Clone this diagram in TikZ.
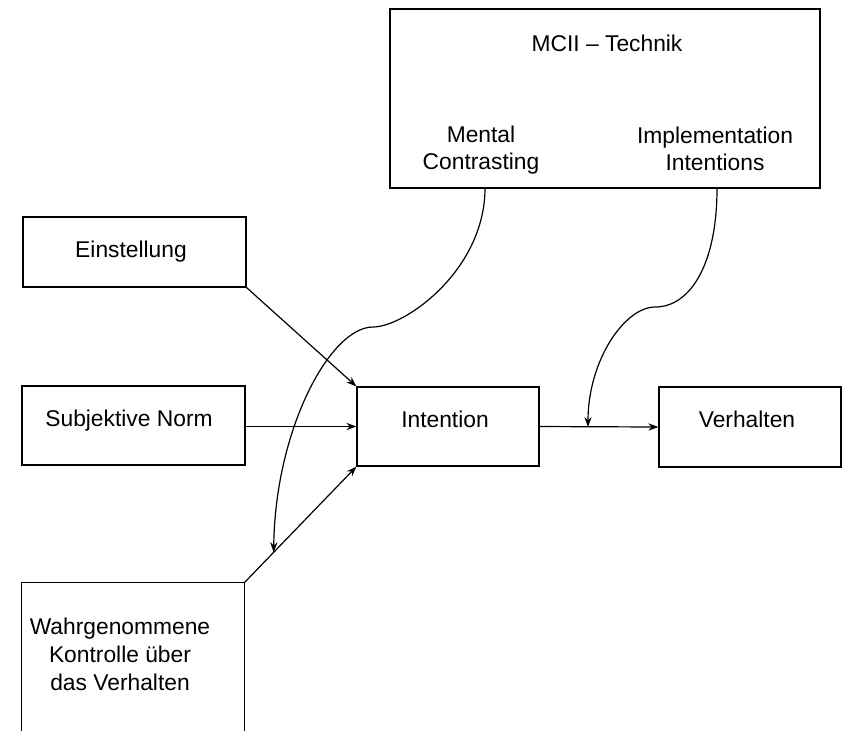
\documentclass[tikz,border=0pt]{standalone}
\usepackage{fontspec}
\setmainfont{Liberation Sans}
\usetikzlibrary{arrows.meta,calc}

\begin{document}
\begin{tikzpicture}[x=0.5pt, y=-0.5pt, >={Stealth[length=5pt,width=3.6pt]},
    line width=0.6pt,
    kasten/.style={draw, inner sep=0pt},
    txt/.style={inner sep=0pt, align=center}]
    \useasboundingbox (0,0) rectangle (844,730);
    \fontsize{11.4}{13.2}\selectfont
    % MCII box with its parts
    \node[kasten, minimum width=215pt, minimum height=89.5pt] (mcii) at (605,98.5) {};
    \node[txt] (technik) at (607,43) {MCII -- Technik};
    \node[txt] (mc) at (481,150) {Mental\\Contrasting};
    \node[txt] (ii) at (715,149) {Implementation\\Intentions};
    % predictors
    \node[kasten, minimum width=111.5pt, minimum height=35pt] (einst) at (134.5,252) {};
    \node[txt] (einsttxt) at (131,252) {Einstellung};
    \node[kasten, minimum width=111.5pt, minimum height=39.5pt] (norm) at (133.5,425.5) {};
    \node[txt] (normtxt) at (129,421) {Subjektive Norm};
    \node[minimum width=111pt, minimum height=73.5pt, inner sep=0pt] (kontrolle) at (133,656.5) {};
    \draw (kontrolle.south west) -- (kontrolle.north west) -- (kontrolle.north east)
      -- (kontrolle.south east);
    \node[txt, font=\fontsize{11.4}{14}\selectfont] (kontrolletxt) at (120,654)
      {Wahrgenommene\\Kontrolle über\\das Verhalten};
    % intention and behaviour
    \node[kasten, minimum width=91pt, minimum height=39.5pt] (intention) at (448,426.5) {};
    \node[txt] (intentiontxt) at (445,419) {Intention};
    \node[kasten, minimum width=91pt, minimum height=40pt] (verhalten) at (750,427) {};
    \node[txt] (verhaltentxt) at (747,419) {Verhalten};
    % arrows
    \draw[->] (einst.south east) -- (intention.north west);
    \draw[->] (norm.east |- intention.west) -- (intention.west);
    \draw[->] (kontrolle.north east) -- (intention.south west);
    \draw[->] (intention.east) -- (verhalten.west);
    \coordinate (mcend) at ($(kontrolle.north east)!0.26!(intention.south west)$);
    \coordinate (iiend) at (588,427);
    \draw[->] (485,188) .. controls (485,270) and (405,327) .. (373,327)
      .. controls (330,327) and (275,430) .. (mcend);
    \draw[->] (717,188) .. controls (717,265) and (690,307) .. (655,307)
      .. controls (625,307) and (588,360) .. (iiend);
  \end{tikzpicture}
\end{document}
